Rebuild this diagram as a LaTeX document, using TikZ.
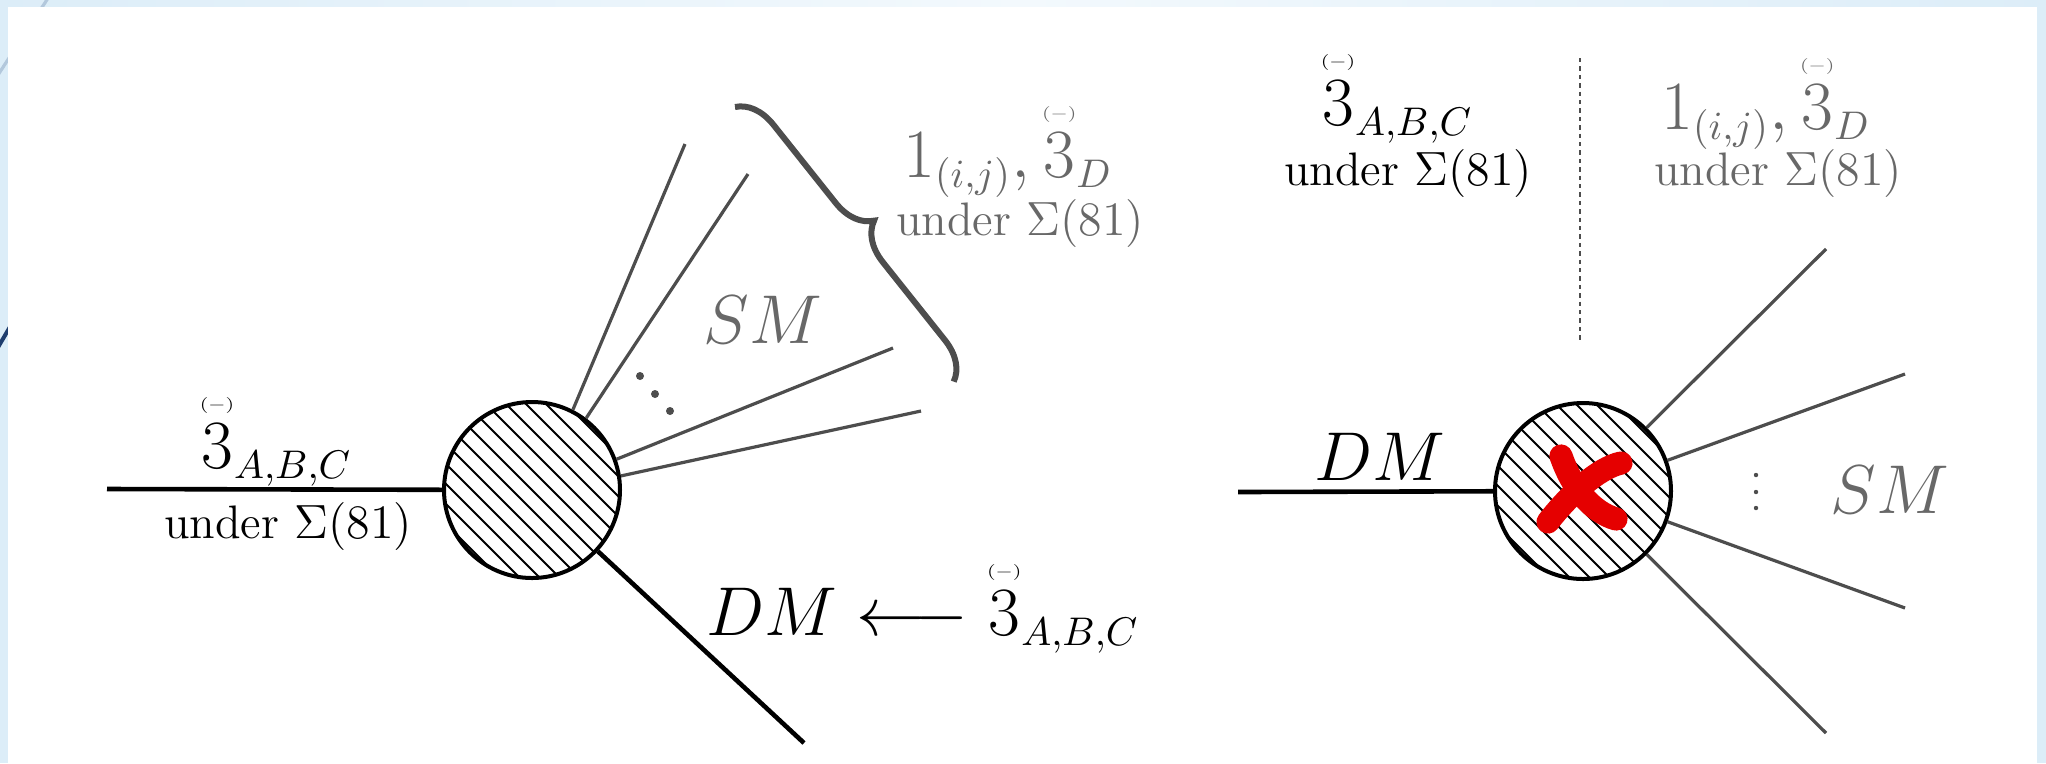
\documentclass[tikz,border=0pt]{standalone}
\usepackage{amsmath}
\usepackage{graphicx}
\usetikzlibrary{decorations.pathreplacing,arrows.meta}
\definecolor{smgray}{HTML}{4D4D4D}
\definecolor{txtgray}{HTML}{686868}
\definecolor{bgblue}{HTML}{DCEDF8}
\definecolor{bgtop}{HTML}{F3F9FD}
\definecolor{xred}{HTML}{E50000}
\definecolor{navyline}{HTML}{1E3D6E}
\definecolor{decoline}{HTML}{B3C8DC}
\newcommand{\MySz}{\fontsize{17.28}{20}\selectfont}
\newcommand{\MyTx}{\fontsize{11.75}{14}\selectfont}
\newcommand{\tb}{{\overset{\scalebox{0.55}[0.4]{$\scriptscriptstyle(-)$}}{3}}}
\newcommand{\ssub}[1]{_{\scriptscriptstyle #1}}
\begin{document}
\begin{tikzpicture}[x=0.25pt,y=-0.25pt,
  smline/.style={draw=smgray,line width=0.8pt},
  dmline/.style={draw=black,line width=1.15pt},
  blob/.style={circle,draw=black,line width=1pt,minimum size=44pt,inner sep=0pt},
  hatch/.style={draw=black,line width=0.45pt},
  bm/.style={inner sep=0pt,anchor=base,font=\MySz},
  ut/.style={inner sep=0pt,anchor=base,font=\MyTx},
  gr/.style={text=txtgray},
  sbrace/.style={draw=smgray,line width=1.5pt,decorate,decoration={brace,amplitude=9.5pt}},
  dashv/.style={draw=smgray,line width=0.5pt,dash pattern=on 1.1pt off 1pt},
  xstroke/.style={draw=xred,line width=5.8pt,line cap=round}
]
\useasboundingbox (0,0) rectangle (2046,763);
% slide background
\fill[bgblue] (0,0) rectangle (2046,763);
\shade[left color=bgblue,right color=bgblue,middle color=bgtop] (0,0) rectangle (2046,8);
\draw[decoline,line width=0.8pt] (-4,78) -- (52,-8);
\draw[navyline,line width=1pt] (-3,349) -- (14,320);
\fill[white] (8,7) rectangle (2037,763);

% ---------------- left diagram ----------------
\node[blob] (L) at (532,490) {};
\begin{scope}
  \clip (532,490) circle[radius=88];
  \foreach \k in {-13,...,13} \draw[hatch] (532+\k*20-130,490-130) -- ++(260,260);
\end{scope}
\coordinate (Le) at (107,489);
\coordinate (Ld) at (804,743);
\draw[dmline] (Le) -- (L);
\draw[dmline] (L) -- (Ld);
\coordinate (s1) at (685,144);
\coordinate (s2) at (748,174);
\coordinate (s3) at (893,348);
\coordinate (s4) at (921,411);
\draw[smline] (L.63) -- (s1);
\draw[smline] (L.53) -- (s2);
\draw[smline] (L.20) -- (s3);
\draw[smline] (L.9) -- (s4);
\fill[smgray] (640,376) circle[radius=4];
\fill[smgray] (655,394) circle[radius=4];
\fill[smgray] (670,411) circle[radius=4];
\coordinate (bt) at (735,107);
\coordinate (bb) at (954,382);
\draw[sbrace] (bt) -- (bb);

\node[bm] (ll1) at (276,468) {$\tb\ssub{A,B,C}$};
\node[ut] (ll2) at (288,538) {under $\Sigma(81)$};
\node[bm,gr] (lsm) at (763,343) {$SM$};
\node[bm,gr] (lt1) at (1008,177) {$1\ssub{(i,j)},\tb\ssub{D}$};
\node[ut,gr] (lt2) at (1020,235) {under $\Sigma(81)$};
\node[bm] (ldm) at (923,635) {$DM\longleftarrow\tb\ssub{A,B,C}$};

% ---------------- right diagram ----------------
\coordinate (dt) at (1580,58);
\coordinate (db) at (1580,342);
\draw[dashv] (dt) -- (db);
\node[bm] (rl1) at (1397,125) {$\tb\ssub{A,B,C}$};
\node[ut] (rl2) at (1408,185) {under $\Sigma(81)$};
\node[bm,gr] (rr1) at (1766,129) {$1\ssub{(i,j)},\tb\ssub{D}$};
\node[ut,gr] (rr2) at (1778,185) {under $\Sigma(81)$};

\node[blob] (R) at (1583,491) {};
\begin{scope}
  \clip (1583,491) circle[radius=88];
  \foreach \k in {-13,...,13} \draw[hatch] (1583+\k*20-130,491-130) -- ++(260,260);
\end{scope}
% red cross mark
\coordinate (xa1) at (1561,456);
\coordinate (xa2) at (1616,519);
\coordinate (xb1) at (1621,463);
\coordinate (xb2) at (1548,522);
\draw[xstroke] (xa1) .. controls (1572,488) and (1592,512) .. (xa2);
\draw[xstroke] (xb1) .. controls (1598,468) and (1568,496) .. (xb2);
\coordinate (Re) at (1238,492);
\draw[dmline] (Re) -- (R);
\coordinate (r1) at (1826,249);
\coordinate (r2) at (1905,374);
\coordinate (r3) at (1905,608);
\coordinate (r4) at (1826,733);
\draw[smline] (R) -- (r1);
\draw[smline] (R) -- (r2);
\draw[smline] (R) -- (r3);
\draw[smline] (R) -- (r4);
\fill[smgray] (1756,475) circle[radius=2.2];
\fill[smgray] (1756,492) circle[radius=2.2];
\fill[smgray] (1756,508) circle[radius=2.2];
\node[bm] (rdm) at (1380,480) {$DM$};
\node[bm,gr] (rsm) at (1890,513) {$SM$};
\end{tikzpicture}
\end{document}
